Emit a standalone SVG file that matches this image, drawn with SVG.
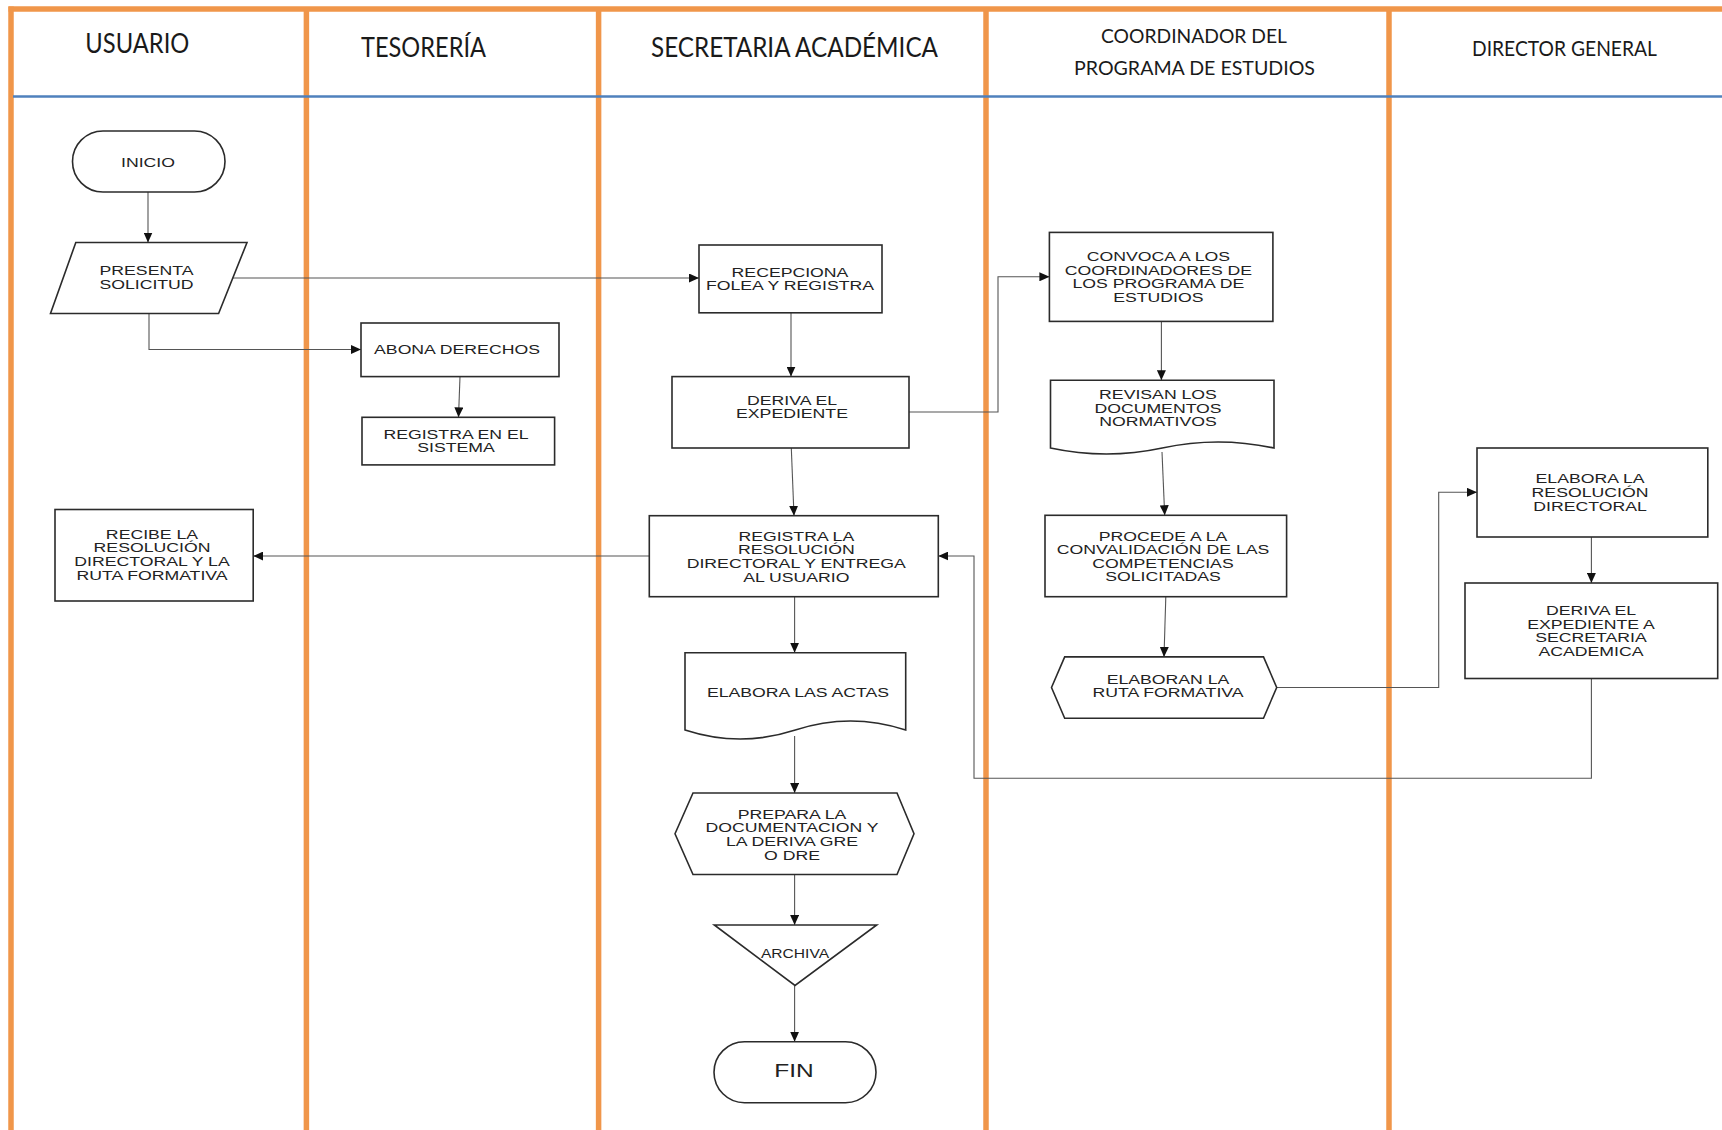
<svg xmlns="http://www.w3.org/2000/svg" width="1722" height="1130" viewBox="0 0 1722 1130">
<style>
.n{fill:#fff;stroke:#2b2b2b;stroke-width:1.6}
.t{font-family:"Liberation Sans",Arial,sans-serif;font-size:13px;fill:#222;text-anchor:middle}
.h{font-family:Lato,"Liberation Sans",sans-serif;fill:#1a1a1a;text-anchor:middle}
.lane{stroke:#F0964A;stroke-width:5.5;fill:none}
.c{fill:none;stroke:#555;stroke-width:1.1;marker-end:url(#ah)}
</style>
<defs>
<marker id="ah" markerUnits="userSpaceOnUse" markerWidth="10" markerHeight="9" refX="10" refY="4.5" orient="auto">
<path d="M0,0 L10,4.5 L0,9 z" fill="#111"/>
</marker>
</defs>
<rect width="1722" height="1130" fill="#fff"/>
<g id="lanes">
<line class="lane" x1="8.5" y1="9" x2="1722" y2="9"/>
<line class="lane" x1="11" y1="6.5" x2="11" y2="1130"/>
<line class="lane" x1="306.4" y1="9" x2="306.4" y2="1130"/>
<line class="lane" x1="598.6" y1="9" x2="598.6" y2="1130"/>
<line class="lane" x1="986" y1="9" x2="986" y2="1130"/>
<line class="lane" x1="1389" y1="9" x2="1389" y2="1130"/>
<line x1="13" y1="96.6" x2="1722" y2="96.6" stroke="#4F81BD" stroke-width="2.5"/>
</g>
<g id="headers">
<text class="h" x="137.3" y="53.3" font-size="26" textLength="104" lengthAdjust="spacingAndGlyphs">USUARIO</text>
<text class="h" x="423.5" y="57" font-size="26" textLength="125" lengthAdjust="spacingAndGlyphs">TESORERÍA</text>
<text class="h" x="794.5" y="57" font-size="26" textLength="287" lengthAdjust="spacingAndGlyphs">SECRETARIA ACADÉMICA</text>
<text class="h" x="1194" y="42.5" font-size="20" textLength="186" lengthAdjust="spacingAndGlyphs">COORDINADOR DEL</text>
<text class="h" x="1194.5" y="75" font-size="20" textLength="241" lengthAdjust="spacingAndGlyphs">PROGRAMA DE ESTUDIOS</text>
<text class="h" x="1564.5" y="56" font-size="22" textLength="185" lengthAdjust="spacingAndGlyphs">DIRECTOR GENERAL</text>
</g>
<g id="connectors">
<path class="c" d="M148,192 V242.5"/>
<path class="c" d="M233,278 H699"/>
<path class="c" d="M149,313.5 V349.5 H361"/>
<path class="c" d="M460,376.6 L458.5,417.3"/>
<path class="c" d="M791,312.8 V376.6"/>
<path class="c" d="M909,412 H998 V276.8 H1049.4"/>
<path class="c" d="M791.3,448 L794,515.7"/>
<path class="c" d="M1161.4,321.4 V380.2"/>
<path class="c" d="M1162,452 L1164.7,515.3"/>
<path class="c" d="M1165.8,596.7 L1164,656.9"/>
<path class="c" d="M1276.7,687.5 H1438.7 V492.3 H1477"/>
<path class="c" d="M1591.4,537 V583"/>
<path class="c" d="M1591.4,678.5 V778.3 H974 V556 H938.3"/>
<path class="c" d="M649.3,556 H253.2"/>
<path class="c" d="M794.6,596.7 V652.7"/>
<path class="c" d="M794.6,736 V793"/>
<path class="c" d="M794.6,874.5 V925"/>
<path class="c" d="M794.6,985.5 V1041.7"/>
</g>
<g id="inicio">
<rect class="n" x="72.5" y="131" width="152.5" height="61" rx="30.5"/>
<text class="t" transform="matrix(1.36 0 0 1 148 0)"><tspan x="0" y="166.7">INICIO</tspan></text>
</g>
<g id="presenta">
<polygon class="n" points="75.8,242.5 247,242.5 218.6,313.5 50.5,313.5"/>
<text class="t" transform="matrix(1.36 0 0 1 146.5 0)"><tspan x="0" y="275">PRESENTA</tspan><tspan x="0" y="288.7">SOLICITUD</tspan></text>
</g>
<g id="abona">
<rect class="n" x="361" y="323" width="198" height="53.6"/>
<text class="t" transform="matrix(1.36 0 0 1 457 0)"><tspan x="0" y="354.2">ABONA DERECHOS</tspan></text>
</g>
<g id="registra-sistema">
<rect class="n" x="362" y="417.3" width="192.6" height="47.6"/>
<text class="t" transform="matrix(1.36 0 0 1 456 0)"><tspan x="0" y="438.9">REGISTRA EN EL</tspan><tspan x="0" y="452.3">SISTEMA</tspan></text>
</g>
<g id="recepciona">
<rect class="n" x="699" y="245" width="183" height="67.8"/>
<text class="t" transform="matrix(1.36 0 0 1 790 0)"><tspan x="0" y="276.7">RECEPCIONA</tspan><tspan x="0" y="290.5">FOLEA Y REGISTRA</tspan></text>
</g>
<g id="deriva">
<rect class="n" x="672" y="376.6" width="237" height="71.4"/>
<text class="t" transform="matrix(1.36 0 0 1 792 0)"><tspan x="0" y="404.7">DERIVA EL</tspan><tspan x="0" y="418">EXPEDIENTE</tspan></text>
</g>
<g id="convoca">
<rect class="n" x="1049.4" y="232.4" width="223.5" height="89"/>
<text class="t" transform="matrix(1.36 0 0 1 1158.4 0)"><tspan x="0" y="261.3">CONVOCA A LOS</tspan><tspan x="0" y="274.7">COORDINADORES DE</tspan><tspan x="0" y="288.3">LOS PROGRAMA DE</tspan><tspan x="0" y="302">ESTUDIOS</tspan></text>
</g>
<g id="revisan">
<path class="n" d="M1050.5,380.2 H1274 V448 Q1218.1,436 1162.25,448 T1050.5,448 Z"/>
<text class="t" transform="matrix(1.36 0 0 1 1158 0)"><tspan x="0" y="398.7">REVISAN LOS</tspan><tspan x="0" y="412.7">DOCUMENTOS</tspan><tspan x="0" y="426.3">NORMATIVOS</tspan></text>
</g>
<g id="procede">
<rect class="n" x="1045" y="515.3" width="241.6" height="81.4"/>
<text class="t" transform="matrix(1.36 0 0 1 1163 0)"><tspan x="0" y="540.7">PROCEDE A LA</tspan><tspan x="0" y="554">CONVALIDACIÓN DE LAS</tspan><tspan x="0" y="567.7">COMPETENCIAS</tspan><tspan x="0" y="581.2">SOLICITADAS</tspan></text>
</g>
<g id="elaboran">
<polygon class="n" points="1051.5,687.5 1064.7,656.9 1263.5,656.9 1276.7,687.5 1263.5,718.2 1064.7,718.2"/>
<text class="t" transform="matrix(1.36 0 0 1 1168 0)"><tspan x="0" y="683.9">ELABORAN LA</tspan><tspan x="0" y="697.3">RUTA FORMATIVA</tspan></text>
</g>
<g id="elabora-resolucion">
<rect class="n" x="1477" y="448" width="230.8" height="89"/>
<text class="t" transform="matrix(1.36 0 0 1 1590 0)"><tspan x="0" y="483.3">ELABORA LA</tspan><tspan x="0" y="497">RESOLUCIÓN</tspan><tspan x="0" y="510.7">DIRECTORAL</tspan></text>
</g>
<g id="deriva-secretaria">
<rect class="n" x="1465" y="583" width="252.7" height="95.5"/>
<text class="t" transform="matrix(1.36 0 0 1 1591 0)"><tspan x="0" y="615.1">DERIVA EL</tspan><tspan x="0" y="628.7">EXPEDIENTE A</tspan><tspan x="0" y="642.2">SECRETARIA</tspan><tspan x="0" y="655.5">ACADEMICA</tspan></text>
</g>
<g id="registra-resolucion">
<rect class="n" x="649.3" y="515.7" width="289" height="81"/>
<text class="t" transform="matrix(1.36 0 0 1 796.3 0)"><tspan x="0" y="540.7">REGISTRA LA</tspan><tspan x="0" y="554">RESOLUCIÓN</tspan><tspan x="0" y="568">DIRECTORAL Y ENTREGA</tspan><tspan x="0" y="581.7">AL USUARIO</tspan></text>
</g>
<g id="recibe">
<rect class="n" x="55" y="509.5" width="198.2" height="91.5"/>
<text class="t" transform="matrix(1.36 0 0 1 152 0)"><tspan x="0" y="538.7">RECIBE LA</tspan><tspan x="0" y="552.4">RESOLUCIÓN</tspan><tspan x="0" y="565.7">DIRECTORAL Y LA</tspan><tspan x="0" y="580.5">RUTA FORMATIVA</tspan></text>
</g>
<g id="actas">
<path class="n" d="M685,652.7 H905.7 V730 Q850.5,712 795.35,730 T685,730 Z"/>
<text class="t" transform="matrix(1.36 0 0 1 798 0)"><tspan x="0" y="697.4">ELABORA LAS ACTAS</tspan></text>
</g>
<g id="prepara">
<polygon class="n" points="675,833.7 693,793 897,793 914,833.7 897,874.5 693,874.5"/>
<text class="t" transform="matrix(1.36 0 0 1 792 0)"><tspan x="0" y="818.7">PREPARA LA</tspan><tspan x="0" y="832.4">DOCUMENTACION Y</tspan><tspan x="0" y="846.1">LA DERIVA GRE</tspan><tspan x="0" y="859.8">O DRE</tspan></text>
</g>
<g id="archiva">
<polygon class="n" points="714.3,925 876.7,925 795,985.5"/>
<text class="t" style="font-size:12px" transform="matrix(1.3 0 0 1 795 0)"><tspan x="0" y="958.5">ARCHIVA</tspan></text>
</g>
<g id="fin">
<rect class="n" x="714" y="1041.7" width="162" height="61" rx="30.5"/>
<text class="t" style="font-size:18px" transform="matrix(1.36 0 0 1 794 0)"><tspan x="0" y="1077">FIN</tspan></text>
</g>
</svg>
